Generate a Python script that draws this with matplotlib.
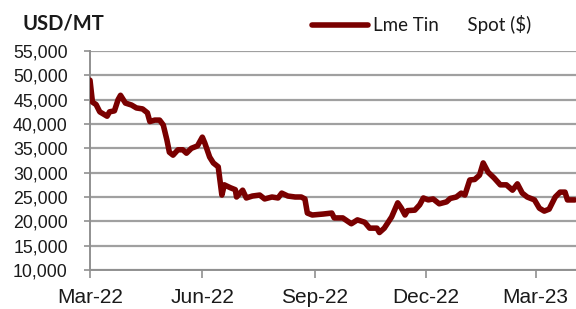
import matplotlib
matplotlib.use("Agg")
import matplotlib.pyplot as plt
import matplotlib.dates as mdates
import pandas as pd

# LME tin spot, USD/MT
dates = ["2022-03-01", "2022-03-03", "2022-03-06", "2022-03-09", "2022-03-15",
         "2022-03-17", "2022-03-21", "2022-03-24", "2022-03-26", "2022-03-30",
         "2022-04-04", "2022-04-08", "2022-04-13", "2022-04-17", "2022-04-19",
         "2022-04-23", "2022-04-27", "2022-04-30", "2022-05-03", "2022-05-05",
         "2022-05-08", "2022-05-12", "2022-05-16", "2022-05-19", "2022-05-23",
         "2022-05-28", "2022-06-01", "2022-06-03", "2022-06-07", "2022-06-10",
         "2022-06-14", "2022-06-17", "2022-06-19", "2022-06-24", "2022-06-28",
         "2022-06-29", "2022-07-04", "2022-07-07", "2022-07-12", "2022-07-18",
         "2022-07-22", "2022-07-28", "2022-08-02", "2022-08-05", "2022-08-10",
         "2022-08-16", "2022-08-21", "2022-08-24", "2022-08-26", "2022-08-30",
         "2022-09-08", "2022-09-15", "2022-09-17", "2022-09-24", "2022-10-01",
         "2022-10-06", "2022-10-12", "2022-10-16", "2022-10-22", "2022-10-24",
         "2022-10-28", "2022-11-03", "2022-11-08", "2022-11-11", "2022-11-14",
         "2022-11-16", "2022-11-22", "2022-11-26", "2022-11-29", "2022-12-03",
         "2022-12-07", "2022-12-12", "2022-12-18", "2022-12-21", "2022-12-26",
         "2022-12-30", "2023-01-02", "2023-01-06", "2023-01-10", "2023-01-14",
         "2023-01-17", "2023-01-21", "2023-01-26", "2023-01-31", "2023-02-05",
         "2023-02-10", "2023-02-14", "2023-02-18", "2023-02-22", "2023-02-28",
         "2023-03-04", "2023-03-08", "2023-03-12", "2023-03-17", "2023-03-21",
         "2023-03-25", "2023-03-27", "2023-04-02"]
prices = [49000, 44500, 44000, 42500, 41600,
          42500, 42700, 45000, 45900, 44300,
          43900, 43300, 43100, 42300, 40500,
          40800, 40800, 39800, 36700, 34200,
          33600, 34700, 34700, 34000, 35000,
          35500, 37300, 36100, 33200, 32000,
          31200, 25400, 27500, 26900, 26500,
          25000, 26400, 24800, 25200, 25400,
          24600, 25000, 24800, 25800, 25200,
          25000, 25000, 24600, 21700, 21300,
          21500, 21700, 20700, 20700, 19500,
          20300, 19800, 18600, 18600, 17700,
          18600, 20900, 23800, 22700, 21300,
          22200, 22300, 23400, 24800, 24400,
          24600, 23600, 24000, 24700, 25000,
          25800, 25400, 28500, 28600, 29500,
          32000, 30100, 28900, 27500, 27500,
          26400, 27700, 25800, 25000, 24400,
          22700, 22100, 22500, 25000, 26000,
          26000, 24400, 24400]
series_label = "Lme Tin      Spot ($)"
unit_label = "USD/MT"

x = pd.to_datetime(dates)

fig = plt.figure(figsize=(5.76, 3.09), dpi=100)
ax = fig.add_axes([90 / 576, 1 - 270 / 309, 1 - 90 / 576, (270 - 51) / 309])

line_color = "#7a0000"
ax.plot(x, prices, color=line_color, lw=4, solid_joinstyle="round",
        solid_capstyle="round", label=series_label, zorder=3)

ax.set_ylim(10000, 55000)
ax.set_yticks(range(10000, 55001, 5000))
ax.yaxis.set_major_formatter(matplotlib.ticker.StrMethodFormatter("{x:,.0f}"))
ax.set_xlim(pd.Timestamp("2022-03-01"), pd.Timestamp("2023-04-03"))
ax.xaxis.set_major_locator(mdates.MonthLocator(bymonth=[3, 6, 9, 12]))
ax.xaxis.set_major_formatter(mdates.DateFormatter("%b-%y"))

ax.grid(axis="y", color="#a0a0a0", lw=1.6, zorder=0)
ax.set_axisbelow(True)
for s in ["top", "right"]:
    ax.spines[s].set_visible(False)
for s in ["left", "bottom"]:
    ax.spines[s].set_color("#909090")
    ax.spines[s].set_linewidth(1.4)

ax.tick_params(axis="y", colors="#909090", length=4, width=1.2, pad=12,
               labelcolor="#1a1a1a", labelsize=12.8)
ax.tick_params(axis="x", colors="#909090", length=6, width=1.2, pad=7,
               labelcolor="#1a1a1a", labelsize=15)
for t in ax.get_yticklabels() + ax.get_xticklabels():
    t.set_family("Liberation Sans")

fig.text(22 / 576, 1 - 23 / 309, unit_label, fontsize=14.5, weight="bold",
         family="Lato", va="center", ha="left", color="#1a1a1a")

leg = fig.legend(loc="center left", bbox_to_anchor=(312 / 576, 1 - 25 / 309),
                 frameon=False, borderpad=0, borderaxespad=0, handlelength=3.0,
                 handletextpad=0.25, prop={"family": "Lato", "size": 13.5})
for t in leg.get_texts():
    t.set_color("#1a1a1a")

fig.savefig("out.png", dpi=100)
